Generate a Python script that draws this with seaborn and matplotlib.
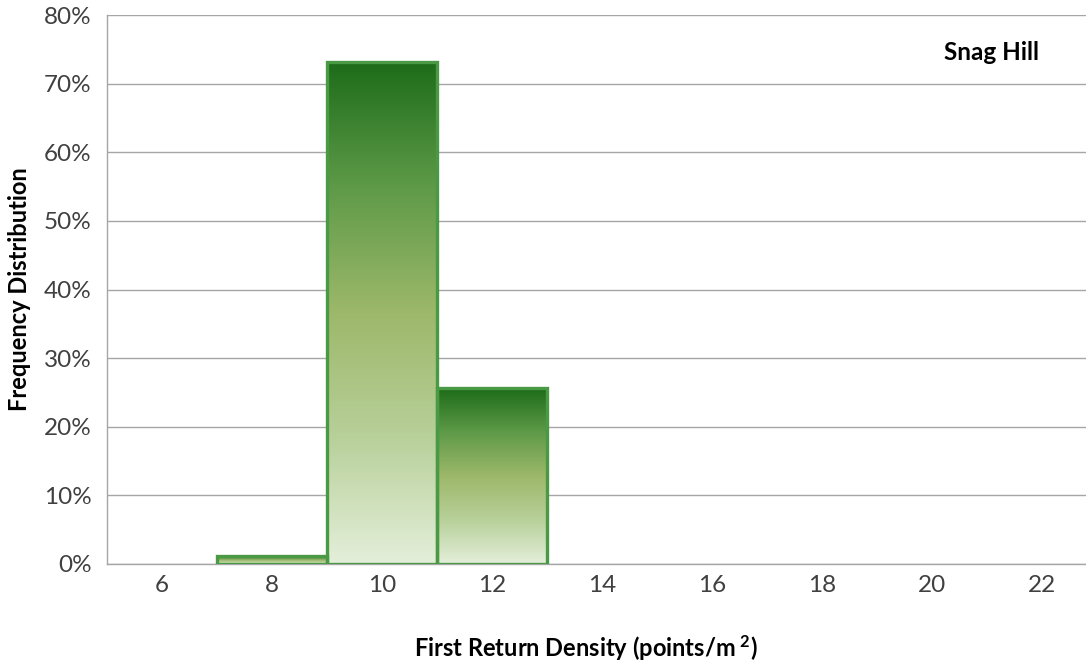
import numpy as np
import pandas as pd
import matplotlib
matplotlib.use("Agg")
import matplotlib.pyplot as plt
from matplotlib.colors import LinearSegmentedColormap
from matplotlib.ticker import FixedLocator, FuncFormatter
import seaborn as sns

categories = ["6", "8", "10", "12", "14", "16", "18", "20", "22"]
frequency = [0.0, 1.1, 73.2, 25.6, 0.0, 0.0, 0.0, 0.0, 0.0]
title_text = "Snag Hill"
xlabel = "First Return Density (points/m$^{\\ 2}$)"
ylabel = "Frequency Distribution"

sns.set_theme(style="white")
plt.rcParams['font.family'] = ['Lato', 'DejaVu Sans']
plt.rcParams['mathtext.fontset'] = 'custom'
plt.rcParams['mathtext.rm'] = 'Lato:bold'
plt.rcParams['mathtext.it'] = 'Lato:bold'

df = pd.DataFrame({"cat": categories, "freq": frequency})

fig = plt.figure(figsize=(10.86, 6.63), dpi=100)
ax = fig.add_axes([107/1086, 1 - 564/663, (1086-107)/1086, (564-15)/663])

sns.barplot(data=df, x="cat", y="freq", ax=ax, width=1.0,
            color="#2E7D2A", edgecolor="#4A9A45", linewidth=2.4, zorder=3)

cmap = LinearSegmentedColormap.from_list(
    "g", ["#E4EFDA", "#B8D09A", "#9DB86A", "#5E9A48", "#1D6C19"])
grad = np.linspace(0, 1, 256).reshape(-1, 1)
for p in list(ax.patches):
    h = p.get_height()
    p.set_facecolor("none")
    if h <= 0:
        p.set_visible(False)
        continue
    x0 = p.get_x()
    w = p.get_width()
    im = ax.imshow(grad, cmap=cmap, aspect="auto", origin="lower",
                   extent=[x0, x0 + w, 0, h], zorder=2, interpolation="bilinear")
    im.set_clip_path(p)

ax.set_xlim(-0.5, 8.4)
ax.set_ylim(0, 80)
ax.yaxis.set_major_locator(FixedLocator(np.arange(0, 81, 10)))
ax.yaxis.set_major_formatter(FuncFormatter(lambda v, _: f"{int(v)}%"))
ax.grid(axis="y", color="#A6A6A6", linewidth=1.0, zorder=0)
ax.set_axisbelow(True)

ax.xaxis.set_major_locator(FixedLocator(range(len(categories))))
ax.set_xticklabels(categories)
ax.xaxis.set_minor_locator(FixedLocator(np.arange(0.5, 8.5, 1.0)))
ax.tick_params(axis="x", which="major", length=0, pad=8, labelsize=17.5, labelcolor="#404040")
ax.tick_params(axis="x", which="minor", length=8, width=1, color="#A6A6A6", direction="out")
ax.tick_params(axis="y", which="major", length=7, width=1, color="#A6A6A6",
               direction="out", labelsize=17.5, labelcolor="#404040", pad=4)

for s in ["top", "right"]:
    ax.spines[s].set_visible(False)
for s in ["left", "bottom"]:
    ax.spines[s].set_visible(True)
    ax.spines[s].set_color("#A6A6A6")
    ax.spines[s].set_linewidth(1.0)

ax.set_xlabel(xlabel, fontsize=17, fontweight="bold", color="black")
ax.set_ylabel(ylabel, fontsize=17, fontweight="bold", color="black")
ax.xaxis.set_label_coords((586 - 107) / 979, -(648 - 564) / 549 + 0.0)
ax.yaxis.set_label_coords(-(107 - 20) / 979, 0.5)
ax.xaxis.label.set_va("center")
ax.yaxis.label.set_va("center")

ax.text((991 - 107) / 979, (564 - 52) / 549, title_text, transform=ax.transAxes,
        fontsize=17.5, fontweight="bold", ha="center", va="center", color="black")

fig.savefig("out.png", dpi=100)
